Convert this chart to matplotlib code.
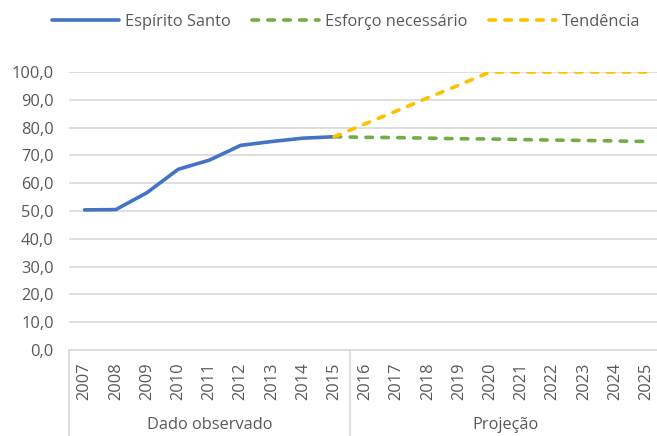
import numpy as np
import matplotlib
matplotlib.use("Agg")
import matplotlib.pyplot as plt
from matplotlib.lines import Line2D
import matplotlib.transforms as mtransforms

plt.rcParams['font.family'] = ['Open Sans', 'DejaVu Sans']

years = [str(y) for y in range(2007, 2026)]
observed = [50.4, 50.5, 56.6, 65.0, 68.3, 73.6, 75.0, 76.2, 76.7] + [np.nan] * 10
esforco = [np.nan] * 8 + [76.7, 76.5, 76.4, 76.2, 76.0, 75.9, 75.7, 75.5, 75.4, 75.2, 75.0]
tendencia = [np.nan] * 8 + [76.7, 81.4, 86.0, 90.7, 95.3, 100.0, 100.0, 100.0, 100.0, 100.0, 100.0]
groups = ["Dado observado", "Projeção"]
group_sizes = [9, 10]
yticks = [0, 10, 20, 30, 40, 50, 60, 70, 80, 90, 100]

TXT = '#595959'
FS = 11.8
LW = 2.6
W, H = 657, 436
fig = plt.figure(figsize=(W / 100, H / 100), dpi=100)
left_px, right_px, top_px, bot_px = 69, 69 + 19 * 31.2, 72, 350
ax = fig.add_axes([left_px / W, 1 - bot_px / H, (right_px - left_px) / W, (bot_px - top_px) / H])

x = np.arange(len(years))
ax.plot(x, observed, color='#4472C4', lw=LW, solid_capstyle='round', solid_joinstyle='round', zorder=3, label='Espírito Santo')
ax.plot(x, esforco, color='#70AD47', lw=LW, dashes=(1.8, 2.6), dash_capstyle='round', zorder=4, label='Esforço necessário')
ax.plot(x, tendencia, color='#FFC000', lw=LW, dashes=(1.8, 2.6), dash_capstyle='round', zorder=5, label='Tendência')

ax.set_xlim(-0.5, len(years) - 0.5)
ax.set_ylim(0, 100)
ax.set_yticks(yticks)
ax.set_yticklabels([f"{v:.1f}".replace('.', ',') for v in yticks], fontsize=FS, color=TXT)
ax.yaxis.grid(True, color='#D9D9D9', lw=1.2)
ax.set_axisbelow(True)
ax.tick_params(axis='y', length=0, pad=11)
ax.set_xticks(x)
ax.set_xticklabels(years, rotation=90, fontsize=FS, color=TXT)
ax.tick_params(axis='x', length=0, pad=9)
for s in ['top', 'right', 'left']:
    ax.spines[s].set_visible(False)
ax.spines['bottom'].set_color('#D9D9D9')
ax.spines['bottom'].set_linewidth(1.2)

# group separators and labels
trans = mtransforms.blended_transform_factory(ax.transData, ax.transAxes)
ybot = -(H - bot_px) / (bot_px - top_px)
start = -0.5
for g, n in zip(groups, group_sizes):
    ax.add_line(Line2D([start, start], [0, ybot], transform=trans, color='#D9D9D9', lw=1.2, clip_on=False))
    ax.text(start + n / 2, -(425 - bot_px) / (bot_px - top_px), g, transform=trans, ha='center', va='center',
            fontsize=FS, color=TXT)
    start += n
ax.add_line(Line2D([start, start], [0, ybot], transform=trans, color='#D9D9D9', lw=1.2, clip_on=False))

fig.legend(loc='center', bbox_to_anchor=(346 / W, 1 - 22 / H), ncol=3, frameon=False, fontsize=FS,
           labelcolor=TXT, handlelength=4.1, columnspacing=1.3, handletextpad=0.36)

fig.savefig('out.png', dpi=100)
